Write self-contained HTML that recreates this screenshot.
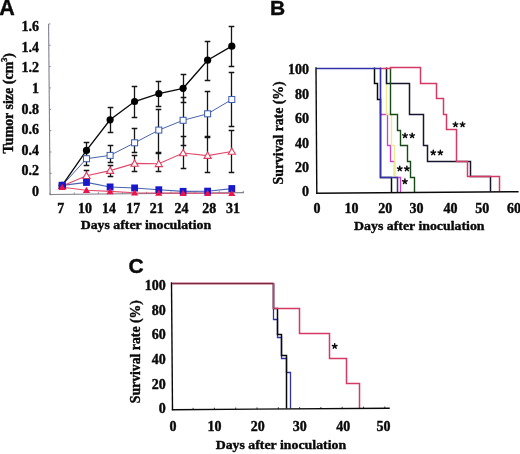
<!DOCTYPE html>
<html><head><meta charset="utf-8"><style>
html,body{margin:0;padding:0;background:#fff;width:520px;height:454px;overflow:hidden}
svg{display:block;will-change:transform}
text{fill:#0a0a0a;stroke:#0a0a0a;stroke-width:0.4px}
.t13{font-family:"Liberation Serif",serif;font-weight:bold;font-size:14px}
.t12{font-family:"Liberation Serif",serif;font-weight:bold;font-size:13.5px}
.t12r{font-family:"Liberation Serif",serif;font-weight:bold;font-size:14.6px}
.pl{font-family:"Liberation Sans",sans-serif;font-weight:bold;font-size:21px}
.ast{font-family:"Liberation Serif",serif;font-weight:bold;font-size:14.5px}
</style></head><body>
<svg width="520" height="454" viewBox="0 0 520 454">
<rect width="520" height="454" fill="#fff"/>
<text x="-0.8" y="14.5" class="pl" style="font-size:21.5px">A</text>
<line x1="48.6" y1="23.9" x2="50.1" y2="195.0" stroke="#80808e" stroke-width="1.1"/>
<line x1="49.6" y1="194.5" x2="244" y2="192.61" stroke="#80808e" stroke-width="1.1"/>
<line x1="48.60" y1="23.90" x2="50.40" y2="23.90" stroke="#80808e" stroke-width="0.9"/>
<line x1="48.79" y1="45.25" x2="50.59" y2="45.25" stroke="#80808e" stroke-width="0.9"/>
<line x1="48.98" y1="66.60" x2="50.78" y2="66.60" stroke="#80808e" stroke-width="0.9"/>
<line x1="49.16" y1="87.95" x2="50.96" y2="87.95" stroke="#80808e" stroke-width="0.9"/>
<line x1="49.35" y1="109.30" x2="51.15" y2="109.30" stroke="#80808e" stroke-width="0.9"/>
<line x1="49.54" y1="130.65" x2="51.34" y2="130.65" stroke="#80808e" stroke-width="0.9"/>
<line x1="49.73" y1="152.00" x2="51.53" y2="152.00" stroke="#80808e" stroke-width="0.9"/>
<line x1="49.91" y1="173.35" x2="51.71" y2="173.35" stroke="#80808e" stroke-width="0.9"/>
<line x1="50.10" y1="194.70" x2="51.90" y2="194.70" stroke="#80808e" stroke-width="0.9"/>
<line x1="50.10" y1="194.49" x2="50.10" y2="192.69" stroke="#80808e" stroke-width="0.9"/>
<line x1="74.25" y1="194.26" x2="74.25" y2="192.46" stroke="#80808e" stroke-width="0.9"/>
<line x1="98.40" y1="194.02" x2="98.40" y2="192.22" stroke="#80808e" stroke-width="0.9"/>
<line x1="122.55" y1="193.79" x2="122.55" y2="191.99" stroke="#80808e" stroke-width="0.9"/>
<line x1="146.70" y1="193.55" x2="146.70" y2="191.75" stroke="#80808e" stroke-width="0.9"/>
<line x1="170.85" y1="193.32" x2="170.85" y2="191.52" stroke="#80808e" stroke-width="0.9"/>
<line x1="195.00" y1="193.09" x2="195.00" y2="191.29" stroke="#80808e" stroke-width="0.9"/>
<line x1="219.15" y1="192.85" x2="219.15" y2="191.05" stroke="#80808e" stroke-width="0.9"/>
<line x1="243.30" y1="192.62" x2="243.30" y2="190.82" stroke="#80808e" stroke-width="0.9"/>
<text x="39.1" y="31.10" text-anchor="end" class="t13">1.6</text>
<text x="39.1" y="51.70" text-anchor="end" class="t13">1.4</text>
<text x="39.1" y="72.30" text-anchor="end" class="t13">1.2</text>
<text x="39.1" y="92.90" text-anchor="end" class="t13">1</text>
<text x="39.1" y="113.50" text-anchor="end" class="t13">0.8</text>
<text x="39.1" y="134.10" text-anchor="end" class="t13">0.6</text>
<text x="39.1" y="154.70" text-anchor="end" class="t13">0.4</text>
<text x="39.1" y="175.30" text-anchor="end" class="t13">0.2</text>
<text x="39.1" y="195.90" text-anchor="end" class="t13">0</text>
<text x="60.8" y="213.2" text-anchor="middle" class="t13">7</text>
<text x="85.1" y="213.2" text-anchor="middle" class="t13">10</text>
<text x="109.1" y="213.2" text-anchor="middle" class="t13">14</text>
<text x="133.2" y="213.2" text-anchor="middle" class="t13">17</text>
<text x="156.8" y="213.2" text-anchor="middle" class="t13">21</text>
<text x="181.5" y="213.2" text-anchor="middle" class="t13">24</text>
<text x="209.2" y="213.2" text-anchor="middle" class="t13">28</text>
<text x="233" y="213.2" text-anchor="middle" class="t13">31</text>
<text x="145.9" y="229.0" text-anchor="middle" class="t12" textLength="130.5" lengthAdjust="spacingAndGlyphs">Days after inoculation</text>
<text transform="translate(12.5,103.2) rotate(-90)" text-anchor="middle" class="t12r" textLength="100.5" lengthAdjust="spacingAndGlyphs">Tumor size (cm<tspan font-size="8.5" dy="-5.5">3</tspan><tspan dy="5.5">)</tspan></text>
<path d="M86.5,142.5V158.5M83.7,142.5h5.6M83.7,158.5h5.6" stroke="#151515" stroke-width="1.3" fill="none"/>
<path d="M110.5,107.5V132.5M107.7,107.5h5.6M107.7,132.5h5.6" stroke="#151515" stroke-width="1.3" fill="none"/>
<path d="M134.5,86.5V117.5M131.7,86.5h5.6M131.7,117.5h5.6" stroke="#151515" stroke-width="1.3" fill="none"/>
<path d="M158.5,81.5V106.5M155.7,81.5h5.6M155.7,106.5h5.6" stroke="#151515" stroke-width="1.3" fill="none"/>
<path d="M183.5,74.5V102.5M180.7,74.5h5.6M180.7,102.5h5.6" stroke="#151515" stroke-width="1.3" fill="none"/>
<path d="M207.5,41.5V80.5M204.7,41.5h5.6M204.7,80.5h5.6" stroke="#151515" stroke-width="1.3" fill="none"/>
<path d="M231.5,26.5V66.5M228.7,26.5h5.6M228.7,66.5h5.6" stroke="#151515" stroke-width="1.3" fill="none"/>
<path d="M86.5,151.5V165.5M83.7,151.5h5.6M83.7,165.5h5.6" stroke="#151515" stroke-width="1.3" fill="none"/>
<path d="M110.5,145.5V162.5M107.7,145.5h5.6M107.7,162.5h5.6" stroke="#151515" stroke-width="1.3" fill="none"/>
<path d="M134.5,128.5V152.5M131.7,128.5h5.6M131.7,152.5h5.6" stroke="#151515" stroke-width="1.3" fill="none"/>
<path d="M158.5,109.5V152.5M155.7,109.5h5.6M155.7,152.5h5.6" stroke="#151515" stroke-width="1.3" fill="none"/>
<path d="M183.5,97.5V145.5M180.7,97.5h5.6M180.7,145.5h5.6" stroke="#151515" stroke-width="1.3" fill="none"/>
<path d="M207.5,91.5V136.5M204.7,91.5h5.6M204.7,136.5h5.6" stroke="#151515" stroke-width="1.3" fill="none"/>
<path d="M231.5,72.5V126.5M228.7,72.5h5.6M228.7,126.5h5.6" stroke="#151515" stroke-width="1.3" fill="none"/>
<path d="M86.5,170.5V180.5M83.7,170.5h5.6M83.7,180.5h5.6" stroke="#151515" stroke-width="1.3" fill="none"/>
<path d="M110.5,165.5V176.5M107.7,165.5h5.6M107.7,176.5h5.6" stroke="#151515" stroke-width="1.3" fill="none"/>
<path d="M134.5,155.5V171.5M131.7,155.5h5.6M131.7,171.5h5.6" stroke="#151515" stroke-width="1.3" fill="none"/>
<path d="M158.5,153.5V171.5M155.7,153.5h5.6M155.7,171.5h5.6" stroke="#151515" stroke-width="1.3" fill="none"/>
<path d="M183.5,136.5V168.5M180.7,136.5h5.6M180.7,168.5h5.6" stroke="#151515" stroke-width="1.3" fill="none"/>
<path d="M207.5,137.5V172.5M204.7,137.5h5.6M204.7,172.5h5.6" stroke="#151515" stroke-width="1.3" fill="none"/>
<path d="M231.5,130.5V172.5M228.7,130.5h5.6M228.7,172.5h5.6" stroke="#151515" stroke-width="1.3" fill="none"/>
<polyline points="62.2,187.2 86.5,190.2 110.1,191.4 134.6,192.8 158.8,193.0 183.1,193.1 207.6,193.2 231.8,193.3" fill="none" stroke="#e4486a" stroke-width="1.1"/>
<polyline points="62.2,185.4 86.5,182.4 110.1,187.0 134.6,188.0 158.8,189.8 183.1,191.4 207.6,191.2 231.8,188.6" fill="none" stroke="#4a62b0" stroke-width="1.1"/>
<polyline points="62.2,186.0 86.5,175.7 110.1,170.6 134.6,163.4 158.8,163.8 183.1,153.0 207.6,155.6 231.8,151.5" fill="none" stroke="#e4486a" stroke-width="1.1"/>
<polyline points="62.2,185.4 86.5,158.7 110.1,155.4 134.6,142.8 158.8,130.1 183.1,120.3 207.6,113.8 231.8,99.5" fill="none" stroke="#4a62b0" stroke-width="1.0"/>
<polyline points="62.2,185.4 86.5,150.4 110.1,119.8 134.6,101.5 158.8,93.7 183.1,88.3 207.6,60.2 231.8,46.2" fill="none" stroke="#0a0a0a" stroke-width="1.35"/>
<path d="M62.2,182.5L65.8,188.8L58.6,188.8Z" fill="#fff" stroke="#e03c5e" stroke-width="1.1"/>
<path d="M86.5,172.2L90.1,178.5L82.9,178.5Z" fill="#fff" stroke="#e03c5e" stroke-width="1.1"/>
<path d="M110.1,167.1L113.7,173.4L106.5,173.4Z" fill="#fff" stroke="#e03c5e" stroke-width="1.1"/>
<path d="M134.6,159.9L138.2,166.2L131.0,166.2Z" fill="#fff" stroke="#e03c5e" stroke-width="1.1"/>
<path d="M158.8,160.3L162.4,166.6L155.2,166.6Z" fill="#fff" stroke="#e03c5e" stroke-width="1.1"/>
<path d="M183.1,149.5L186.7,155.8L179.5,155.8Z" fill="#fff" stroke="#e03c5e" stroke-width="1.1"/>
<path d="M207.6,152.1L211.2,158.4L204.0,158.4Z" fill="#fff" stroke="#e03c5e" stroke-width="1.1"/>
<path d="M231.8,148.0L235.4,154.3L228.2,154.3Z" fill="#fff" stroke="#e03c5e" stroke-width="1.1"/>
<rect x="59.2" y="182.4" width="6" height="6" fill="#fff" stroke="#3f5fb0" stroke-width="1.05"/>
<rect x="83.5" y="155.7" width="6" height="6" fill="#fff" stroke="#3f5fb0" stroke-width="1.05"/>
<rect x="107.1" y="152.4" width="6" height="6" fill="#fff" stroke="#3f5fb0" stroke-width="1.05"/>
<rect x="131.6" y="139.8" width="6" height="6" fill="#fff" stroke="#3f5fb0" stroke-width="1.05"/>
<rect x="155.8" y="127.1" width="6" height="6" fill="#fff" stroke="#3f5fb0" stroke-width="1.05"/>
<rect x="180.1" y="117.3" width="6" height="6" fill="#fff" stroke="#3f5fb0" stroke-width="1.05"/>
<rect x="204.6" y="110.8" width="6" height="6" fill="#fff" stroke="#3f5fb0" stroke-width="1.05"/>
<rect x="228.8" y="96.5" width="6" height="6" fill="#fff" stroke="#3f5fb0" stroke-width="1.05"/>
<circle cx="62.2" cy="185.4" r="3.6" fill="#000"/>
<circle cx="86.5" cy="150.4" r="3.6" fill="#000"/>
<circle cx="110.1" cy="119.8" r="3.6" fill="#000"/>
<circle cx="134.6" cy="101.5" r="3.6" fill="#000"/>
<circle cx="158.8" cy="93.7" r="3.6" fill="#000"/>
<circle cx="183.1" cy="88.3" r="3.6" fill="#000"/>
<circle cx="207.6" cy="60.2" r="3.6" fill="#000"/>
<circle cx="231.8" cy="46.2" r="3.6" fill="#000"/>
<rect x="58.8" y="181.9" width="6.8" height="7" fill="#1818cc"/>
<rect x="83.1" y="178.9" width="6.8" height="7" fill="#1818cc"/>
<rect x="106.7" y="183.5" width="6.8" height="7" fill="#1818cc"/>
<rect x="131.2" y="184.5" width="6.8" height="7" fill="#1818cc"/>
<rect x="155.4" y="186.3" width="6.8" height="7" fill="#1818cc"/>
<rect x="179.7" y="187.9" width="6.8" height="7" fill="#1818cc"/>
<rect x="204.2" y="187.7" width="6.8" height="7" fill="#1818cc"/>
<rect x="228.4" y="185.1" width="6.8" height="7" fill="#1818cc"/>
<path d="M62.2,183.8L65.8,190.0L58.6,190.0Z" fill="#e8144a"/>
<path d="M86.5,186.8L90.1,193.0L82.9,193.0Z" fill="#e8144a"/>
<path d="M110.1,188.0L113.7,194.2L106.5,194.2Z" fill="#e8144a"/>
<path d="M134.6,189.4L138.2,195.6L131.0,195.6Z" fill="#e8144a"/>
<path d="M158.8,189.6L162.4,195.8L155.2,195.8Z" fill="#e8144a"/>
<path d="M183.1,189.7L186.7,195.9L179.5,195.9Z" fill="#e8144a"/>
<path d="M207.6,189.8L211.2,196.0L204.0,196.0Z" fill="#e8144a"/>
<path d="M231.8,189.9L235.4,196.1L228.2,196.1Z" fill="#e8144a"/>
<text x="270" y="14.5" class="pl">B</text>
<path d="M380.5,67.5H380.5V114.5H387.5V145.5H390.5V161.5H394.5V177.5H400.5V192.33" fill="none" stroke="#d040cc" stroke-width="1.3"/>
<path d="M386.5,67.5H386.5V114.5H391.5V145.5H394.5V177.5H397.5V192.35" fill="none" stroke="#eaea96" stroke-width="1.4"/>
<path d="M386.5,67.5H386.5V83.5H409.5V114.5H423.5V145.5H427.5V161.5H470.5V176.5H490.5V191.62" fill="none" stroke="#16162e" stroke-width="1.5"/>
<path d="M390.5,67.5H390.5V114.5H397.5V130.5H400.5V145.5H407.5V161.5H410.5V177.5H414.5V192.22" fill="none" stroke="#184a18" stroke-width="1.4"/>
<path d="M374.5,67.5H374.5V83.5H377.5V99.5H380.5V177.5H391.5V192.4" fill="none" stroke="#0a0a0a" stroke-width="1.5"/>
<path d="M380.5,68.5H390.5V67.5H420.5V83.5H436.5V98.5H443.5V114.5H446.5V129.5H456.5V161.5H467.5V176.5H499.5V191.54" fill="none" stroke="#d43a64" stroke-width="1.5"/>
<path d="M316.2,68.5H380.5V177.5H397.5V192.35" fill="none" stroke="#3232aa" stroke-width="1.5"/>
<line x1="316" y1="67.2" x2="316.8" y2="193.8" stroke="#0a0a0a" stroke-width="1.4"/>
<line x1="316.1" y1="193.3" x2="518.6" y2="191.7" stroke="#0a0a0a" stroke-width="1.4"/>
<text x="309" y="73.9" text-anchor="end" class="t13">100</text>
<text x="309" y="98.5" text-anchor="end" class="t13">80</text>
<text x="309" y="123.1" text-anchor="end" class="t13">60</text>
<text x="309" y="147.5" text-anchor="end" class="t13">40</text>
<text x="309" y="171.8" text-anchor="end" class="t13">20</text>
<text x="309" y="196.4" text-anchor="end" class="t13">0</text>
<text x="316.9" y="213.4" text-anchor="middle" class="t13">0</text>
<text x="351.5" y="213.4" text-anchor="middle" class="t13">10</text>
<text x="385.2" y="213.4" text-anchor="middle" class="t13">20</text>
<text x="416.4" y="213.4" text-anchor="middle" class="t13">30</text>
<text x="450.5" y="213.4" text-anchor="middle" class="t13">40</text>
<text x="482.3" y="213.4" text-anchor="middle" class="t13">50</text>
<text x="514" y="213.4" text-anchor="middle" class="t13">60</text>
<text x="419.3" y="230.3" text-anchor="middle" class="t12" textLength="130.5" lengthAdjust="spacingAndGlyphs">Days after inoculation</text>
<text transform="translate(283.4,132.9) rotate(-90)" text-anchor="middle" class="t12r" textLength="103" lengthAdjust="spacingAndGlyphs">Survival rate (%)</text>
<path d="M405.05,135.60L405.05,133.20M405.05,135.60L407.33,134.86M405.05,135.60L406.46,137.54M405.05,135.60L403.64,137.54M405.05,135.60L402.77,134.86" stroke="#0c0c0c" stroke-width="1.5" stroke-linecap="round" fill="none"/>
<path d="M412.15,135.60L412.15,133.20M412.15,135.60L414.43,134.86M412.15,135.60L413.56,137.54M412.15,135.60L410.74,137.54M412.15,135.60L409.87,134.86" stroke="#0c0c0c" stroke-width="1.5" stroke-linecap="round" fill="none"/>
<path d="M433.25,152.70L433.25,150.30M433.25,152.70L435.53,151.96M433.25,152.70L434.66,154.64M433.25,152.70L431.84,154.64M433.25,152.70L430.97,151.96" stroke="#0c0c0c" stroke-width="1.5" stroke-linecap="round" fill="none"/>
<path d="M440.35,152.70L440.35,150.30M440.35,152.70L442.63,151.96M440.35,152.70L441.76,154.64M440.35,152.70L438.94,154.64M440.35,152.70L438.07,151.96" stroke="#0c0c0c" stroke-width="1.5" stroke-linecap="round" fill="none"/>
<path d="M399.75,168.70L399.75,166.30M399.75,168.70L402.03,167.96M399.75,168.70L401.16,170.64M399.75,168.70L398.34,170.64M399.75,168.70L397.47,167.96" stroke="#0c0c0c" stroke-width="1.5" stroke-linecap="round" fill="none"/>
<path d="M406.85,168.70L406.85,166.30M406.85,168.70L409.13,167.96M406.85,168.70L408.26,170.64M406.85,168.70L405.44,170.64M406.85,168.70L404.57,167.96" stroke="#0c0c0c" stroke-width="1.5" stroke-linecap="round" fill="none"/>
<path d="M404.90,181.50L404.90,179.10M404.90,181.50L407.18,180.76M404.90,181.50L406.31,183.44M404.90,181.50L403.49,183.44M404.90,181.50L402.62,180.76" stroke="#0c0c0c" stroke-width="1.5" stroke-linecap="round" fill="none"/>
<path d="M455.45,124.60L455.45,122.20M455.45,124.60L457.73,123.86M455.45,124.60L456.86,126.54M455.45,124.60L454.04,126.54M455.45,124.60L453.17,123.86" stroke="#0c0c0c" stroke-width="1.5" stroke-linecap="round" fill="none"/>
<path d="M462.55,124.60L462.55,122.20M462.55,124.60L464.83,123.86M462.55,124.60L463.96,126.54M462.55,124.60L461.14,126.54M462.55,124.60L460.27,123.86" stroke="#0c0c0c" stroke-width="1.5" stroke-linecap="round" fill="none"/>
<text x="128.5" y="273" class="pl">C</text>
<path d="M273.5,283.5H273.5V319.5H277.5V337.5H281.5V358.5H286.5V372.5H290.5V408.58" fill="none" stroke="#3232aa" stroke-width="1.3"/>
<path d="M273.5,283.5H273.5V308.5H277.5V334.5H281.5V355.5H286.5V408.61" fill="none" stroke="#0a0a0a" stroke-width="1.5"/>
<path d="M172.3,283.5H273.5V308.5H299.5V333.5H329.5V358.5H346.5V383.5H359.5V408.11" fill="none" stroke="#d43a64" stroke-width="1.5"/>
<path d="M172.3,283.5H273.2" stroke="#7a2a40" stroke-width="1.5" fill="none"/>
<path d="M172.3,282.5H273.2" stroke="#f0a0b8" stroke-width="0.6" fill="none" opacity="0.6"/>
<line x1="171.5" y1="282.3" x2="172.5" y2="410.3" stroke="#0a0a0a" stroke-width="1.4"/>
<line x1="171.8" y1="409.7" x2="389.8" y2="408.2" stroke="#0a0a0a" stroke-width="1.4"/>
<line x1="193.1" y1="409.55" x2="193.1" y2="407.85" stroke="#0a0a0a" stroke-width="0.8"/>
<line x1="214.4" y1="409.41" x2="214.4" y2="407.71" stroke="#0a0a0a" stroke-width="0.8"/>
<line x1="235.7" y1="409.26" x2="235.7" y2="407.56" stroke="#0a0a0a" stroke-width="0.8"/>
<line x1="257.0" y1="409.11" x2="257.0" y2="407.41" stroke="#0a0a0a" stroke-width="0.8"/>
<line x1="278.3" y1="408.97" x2="278.3" y2="407.27" stroke="#0a0a0a" stroke-width="0.8"/>
<line x1="299.6" y1="408.82" x2="299.6" y2="407.12" stroke="#0a0a0a" stroke-width="0.8"/>
<line x1="320.9" y1="408.67" x2="320.9" y2="406.97" stroke="#0a0a0a" stroke-width="0.8"/>
<line x1="342.2" y1="408.53" x2="342.2" y2="406.83" stroke="#0a0a0a" stroke-width="0.8"/>
<line x1="363.5" y1="408.38" x2="363.5" y2="406.68" stroke="#0a0a0a" stroke-width="0.8"/>
<line x1="384.8" y1="408.23" x2="384.8" y2="406.53" stroke="#0a0a0a" stroke-width="0.8"/>
<text x="165.8" y="289.9" text-anchor="end" class="t13">100</text>
<text x="165.8" y="314.6" text-anchor="end" class="t13">80</text>
<text x="165.8" y="339.1" text-anchor="end" class="t13">60</text>
<text x="165.8" y="363.9" text-anchor="end" class="t13">40</text>
<text x="165.8" y="388.5" text-anchor="end" class="t13">20</text>
<text x="165.8" y="412.9" text-anchor="end" class="t13">0</text>
<text x="172.9" y="431" text-anchor="middle" class="t13">0</text>
<text x="214.5" y="431" text-anchor="middle" class="t13">10</text>
<text x="257.8" y="431" text-anchor="middle" class="t13">20</text>
<text x="299.8" y="431" text-anchor="middle" class="t13">30</text>
<text x="343.2" y="431" text-anchor="middle" class="t13">40</text>
<text x="383.4" y="431" text-anchor="middle" class="t13">50</text>
<text x="280.9" y="448.5" text-anchor="middle" class="t12" textLength="130.5" lengthAdjust="spacingAndGlyphs">Days after inoculation</text>
<text transform="translate(140.1,351.7) rotate(-90)" text-anchor="middle" class="t12r" textLength="103" lengthAdjust="spacingAndGlyphs">Survival rate (%)</text>
<path d="M334.70,346.20L334.70,343.80M334.70,346.20L336.98,345.46M334.70,346.20L336.11,348.14M334.70,346.20L333.29,348.14M334.70,346.20L332.42,345.46" stroke="#0c0c0c" stroke-width="1.5" stroke-linecap="round" fill="none"/>
</svg>
</body></html>
